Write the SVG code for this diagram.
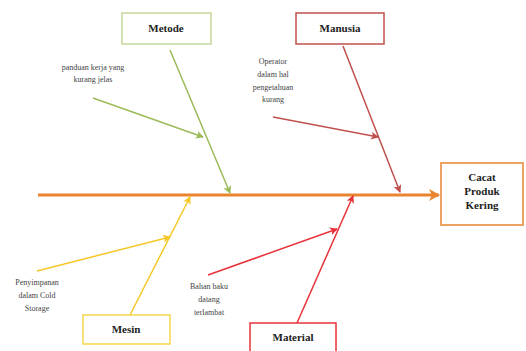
<svg xmlns="http://www.w3.org/2000/svg" width="526" height="351" viewBox="0 0 526 351">
<style>
.box{fill:#fff;stroke-width:1.5}
.lbl{font-family:"Liberation Serif",serif;font-weight:bold;font-size:11px;fill:#222;text-anchor:middle}
.note{font-family:"Liberation Serif",serif;font-size:8px;fill:#444;text-anchor:middle}
.ln{fill:none;stroke-width:1.5}
</style>
<defs>
<marker id="aG" markerWidth="8" markerHeight="8" refX="7" refY="4" orient="auto" markerUnits="userSpaceOnUse"><path d="M0,0 L8,4 L0,8 L2,4 z" fill="#9bbb59"/></marker>
<marker id="aB" markerWidth="8" markerHeight="8" refX="7" refY="4" orient="auto" markerUnits="userSpaceOnUse"><path d="M0,0 L8,4 L0,8 L2,4 z" fill="#c0504d"/></marker>
<marker id="aY" markerWidth="8" markerHeight="8" refX="7" refY="4" orient="auto" markerUnits="userSpaceOnUse"><path d="M0,0 L8,4 L0,8 L2,4 z" fill="#f5c828"/></marker>
<marker id="aR" markerWidth="8" markerHeight="8" refX="7" refY="4" orient="auto" markerUnits="userSpaceOnUse"><path d="M0,0 L8,4 L0,8 L2,4 z" fill="#e8323a"/></marker>
<marker id="aO" markerWidth="12" markerHeight="12" refX="10" refY="6" orient="auto" markerUnits="userSpaceOnUse"><path d="M0,0 L11,6 L0,12 L3,6 z" fill="#e9852f"/></marker>
</defs>
<rect width="526" height="351" fill="#fff"/>
<g id="connectors">
<line x1="38" y1="195" x2="439" y2="195" stroke="#e9852f" stroke-width="3" marker-end="url(#aO)"/>
<line class="ln" x1="170" y1="50" x2="230" y2="193" stroke="#9bbb59" marker-end="url(#aG)"/>
<line class="ln" x1="93" y1="98" x2="203" y2="137" stroke="#9bbb59" marker-end="url(#aG)"/>
<line class="ln" x1="343" y1="46" x2="400" y2="192" stroke="#c0504d" marker-end="url(#aB)"/>
<line class="ln" x1="273" y1="117" x2="378" y2="137" stroke="#c0504d" marker-end="url(#aB)"/>
<line class="ln" x1="130" y1="315" x2="190" y2="197" stroke="#f5c828" marker-end="url(#aY)"/>
<line class="ln" x1="37" y1="271" x2="170" y2="237" stroke="#f5c828" marker-end="url(#aY)"/>
<line class="ln" x1="297" y1="323" x2="353" y2="196" stroke="#e8323a" marker-end="url(#aR)"/>
<line class="ln" x1="208" y1="275" x2="337" y2="229" stroke="#e8323a" marker-end="url(#aR)"/>
</g>
<g id="effect">
<rect class="box" x="441" y="163" width="82" height="62" stroke="#e9852f" stroke-width="2"/>
<text class="lbl" x="482" y="181" font-size="10">Cacat</text>
<text class="lbl" x="482" y="195" font-size="10">Produk</text>
<text class="lbl" x="482" y="209" font-size="10">Kering</text>
</g>
<g id="metode">
<rect class="box" x="122" y="13" width="89" height="31" stroke="#c3d69b"/>
<text class="lbl" x="166" y="32">Metode</text>
</g>
<g id="manusia">
<rect class="box" x="296" y="13" width="88" height="31" stroke="#c0504d"/>
<text class="lbl" x="340" y="32">Manusia</text>
</g>
<g id="mesin">
<rect class="box" x="83" y="315" width="87" height="29" stroke="#f5d84a"/>
<text class="lbl" x="126" y="333">Mesin</text>
</g>
<g id="material">
<rect class="box" x="250" y="323" width="86" height="30" stroke="#e8323a"/>
<text class="lbl" x="293" y="341">Material</text>
</g>
<g id="note-metode">
<text class="note" x="93" y="70">panduan kerja yang</text>
<text class="note" x="93" y="82">kurang jelas</text>
</g>
<g id="note-manusia">
<text class="note" x="273" y="64">Operator</text>
<text class="note" x="273" y="77">dalam hal</text>
<text class="note" x="273" y="90">pengetahuan</text>
<text class="note" x="273" y="102">kurang</text>
</g>
<g id="note-mesin">
<text class="note" x="37" y="285">Penyimpanan</text>
<text class="note" x="37" y="298">dalam Cold</text>
<text class="note" x="37" y="311">Storage</text>
</g>
<g id="note-material">
<text class="note" x="209" y="289">Bahan baku</text>
<text class="note" x="209" y="302">datang</text>
<text class="note" x="209" y="315">terlambat</text>
</g>
</svg>
